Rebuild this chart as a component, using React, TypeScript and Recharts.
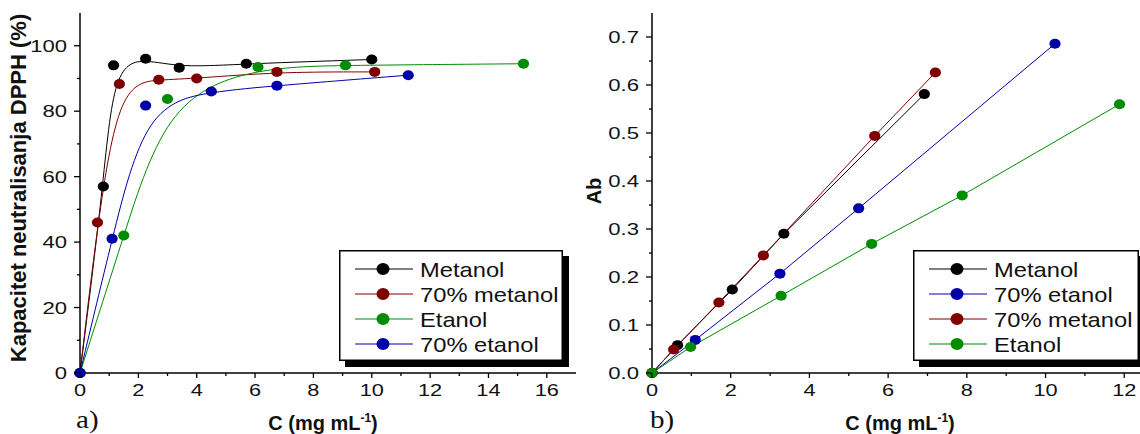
import React from "react";
import { LineChart, Line, XAxis, YAxis } from "recharts";

// a) DPPH neutralisation capacity (%) vs concentration (mg/mL)
const cMetanolA = [0, 0.8, 1.15, 2.25, 3.4, 5.7, 10];
const dpphMetanol = [0, 57, 94, 96, 93.3, 94.5, 95.8];
const cMetanol70A = [0, 0.6, 1.35, 2.7, 4.0, 6.75, 10.1];
const dpphMetanol70 = [0, 46, 88.3, 89.6, 90, 92, 92];
const cEtanolA = [0, 1.5, 3.0, 6.1, 9.1, 15.2];
const dpphEtanol = [0, 42, 83.7, 93.5, 94, 94.5];
const cEtanol70A = [0, 1.1, 2.25, 4.5, 6.75, 11.25];
const dpphEtanol70 = [0, 41, 81.7, 86, 87.8, 91];

// b) absorbance vs concentration (mg/mL)
const cMetanolB = [0, 0.65, 2.04, 3.35, 6.92];
const abMetanol = [0, 0.058, 0.174, 0.29, 0.581];
const cEtanol70B = [0, 1.1, 3.25, 5.25, 10.24];
const abEtanol70 = [0, 0.069, 0.207, 0.343, 0.686];
const cMetanol70B = [0, 0.55, 1.7, 2.83, 5.66, 7.2];
const abMetanol70 = [0, 0.049, 0.147, 0.245, 0.494, 0.626];
const cEtanolB = [0, 0.98, 3.28, 5.58, 7.88, 11.88];
const abEtanol = [0, 0.054, 0.161, 0.269, 0.37, 0.56];

const xTicksA = [0, 1, 2, 3, 4, 5, 6, 7, 8, 9, 10, 11, 12, 13, 14, 15, 16];
const yTicksA = [0, 10, 20, 30, 40, 50, 60, 70, 80, 90, 100];
const xTicksB = [0, 1, 2, 3, 4, 5, 6, 7, 8, 9, 10, 11, 12];
const yTicksB = [0, 0.05, 0.1, 0.15, 0.2, 0.25, 0.3, 0.35, 0.4, 0.45, 0.5, 0.55, 0.6, 0.65, 0.7];

const BLACK = "#000000";
const RED = "#800000";
const GREEN = "#008c00";
const BLUE = "#0000a8";

const SANS = "'Liberation Sans', Arial, sans-serif";
const SERIF = "'Liberation Serif', 'Times New Roman', serif";

const pts = (xs: number[], ys: number[]) => xs.map((x, i) => ({ x, y: ys[i] }));

const seriesA = [
  { name: "Metanol", color: BLACK, data: pts(cMetanolA, dpphMetanol) },
  { name: "70% metanol", color: RED, data: pts(cMetanol70A, dpphMetanol70) },
  { name: "Etanol", color: GREEN, data: pts(cEtanolA, dpphEtanol) },
  { name: "70% etanol", color: BLUE, data: pts(cEtanol70A, dpphEtanol70) },
];

const seriesB = [
  { name: "Metanol", color: BLACK, data: pts(cMetanolB, abMetanol) },
  { name: "70% etanol", color: BLUE, data: pts(cEtanol70B, abEtanol70) },
  { name: "70% metanol", color: RED, data: pts(cMetanol70B, abMetanol70) },
  { name: "Etanol", color: GREEN, data: pts(cEtanolB, abEtanol) },
];

// tick renderers: major ticks get a label, minor ones only a short mark
const bottomTick = (isMajor: (v: number) => boolean) => (p: any) => {
  const v = p.payload.value;
  const major = isMajor(v);
  return (
    <g key={`b${v}`}>
      <line x1={p.x} x2={p.x} y1={p.y} y2={p.y + (major ? 5 : 3)} stroke={BLACK} strokeWidth={1.3} />
      {major && (
        <text transform={`translate(${p.x},${p.y + 23}) scale(1.28,1)`} textAnchor="middle" fontSize={17} fontFamily={SANS} fill="#111">
          {v}
        </text>
      )}
    </g>
  );
};

const leftTick = (isMajor: (v: number) => boolean, fmt: (v: number) => string) => (p: any) => {
  const v = p.payload.value;
  const major = isMajor(v);
  return (
    <g key={`l${v}`}>
      <line x1={p.x} x2={p.x - (major ? 6 : 3)} y1={p.y} y2={p.y} stroke={BLACK} strokeWidth={1.3} />
      {major && (
        <text transform={`translate(${p.x - 13},${p.y}) scale(1.3,1)`} dy="0.36em" textAnchor="end" fontSize={17} fontFamily={SANS} fill="#111">
          {fmt(v)}
        </text>
      )}
    </g>
  );
};

const topTick = (isMajor: (v: number) => boolean) => (p: any) => (
  <line key={`t${p.payload.value}`} x1={p.x} x2={p.x} y1={p.y} y2={p.y + (isMajor(p.payload.value) ? 5 : 3)} stroke={BLACK} strokeWidth={1.3} />
);

const rightTick = (isMajor: (v: number) => boolean) => (p: any) => (
  <line key={`r${p.payload.value}`} x1={p.x} x2={p.x - (isMajor(p.payload.value) ? 5 : 3)} y1={p.y} y2={p.y} stroke={BLACK} strokeWidth={1.3} />
);

const dotFor = (color: string) => (p: any) => (
  <ellipse key={`d${p.index}`} cx={p.cx} cy={p.cy} rx={5.6} ry={5} fill={color} />
);

const XLabel = ({ cx, y }: { cx: number; y: number }) => (
  <text x={cx} y={y} textAnchor="middle" fontSize={20} fontWeight="bold" fontFamily={SANS} fill="#111">
    <tspan>C (mg mL</tspan>
    <tspan dy={-8} fontSize={12}>-1</tspan>
    <tspan dy={8}>)</tspan>
  </text>
);

function LegendBox({ left, top, width, items }: { left: number; top: number; width: number; items: { name: string; color: string }[] }) {
  const h = 111;
  return (
    <svg style={{ position: "absolute", left, top }} width={width + 8} height={h + 8}>
      <rect x={6} y={6} width={width} height={h} fill={BLACK} />
      <rect x={0.75} y={0.75} width={width - 1.5} height={h - 1.5} fill="#fff" stroke={BLACK} strokeWidth={1.5} />
      {items.map((it, i) => {
        const cy = 19 + i * 25;
        return (
          <g key={it.name}>
            <line x1={16} x2={74} y1={cy} y2={cy} stroke={it.color} strokeWidth={1} />
            <ellipse cx={44} cy={cy} rx={6.5} ry={6} fill={it.color} />
            <text transform={`translate(81,${cy}) scale(1.13,1)`} dy="0.36em" fontSize={21} fontFamily={SANS} fill="#111">
              {it.name}
            </text>
          </g>
        );
      })}
    </svg>
  );
}

const evenX = (v: number) => v % 2 === 0;
const majorA = (v: number) => v % 20 === 0;
const majorB = (v: number) => Math.round(v * 100) % 10 === 0;

export default function App() {
  return (
    <div style={{ position: "absolute", left: 0, top: 0, width: 1140, height: 434, overflow: "hidden", background: "#fff" }}>
      <div style={{ position: "absolute", left: 0, top: 0 }}>
        <LineChart width={580} height={434} margin={{ top: 13, right: 4, bottom: 31, left: 0 }}>
          <XAxis dataKey="x" type="number" domain={[0, 17]} ticks={xTicksA} interval={0} height={30}
            tickSize={0} tickMargin={0} tick={bottomTick(evenX)} tickLine={false}
            axisLine={{ stroke: BLACK, strokeWidth: 1.5 }} />
          <XAxis xAxisId="top" orientation="top" dataKey="x" type="number" domain={[0, 17]} ticks={xTicksA} interval={0}
            height={0} tickSize={0} tickMargin={0} tick={topTick(evenX)} tickLine={false}
            axisLine={{ stroke: BLACK, strokeWidth: 1.5 }} />
          <YAxis type="number" domain={[0, 110]} ticks={yTicksA} interval={0} width={80}
            tickSize={0} tickMargin={0} tick={leftTick(majorA, (v) => String(v))} tickLine={false}
            axisLine={{ stroke: BLACK, strokeWidth: 1.5 }} />
          <YAxis yAxisId="right" orientation="right" type="number" domain={[0, 110]} ticks={yTicksA} interval={0} width={0}
            tickSize={0} tickMargin={0} tick={rightTick(majorA)} tickLine={false}
            axisLine={{ stroke: BLACK, strokeWidth: 1.5 }} />
          {seriesA.map((s) => (
            <Line key={s.name} data={s.data} dataKey="y" name={s.name} type="basis" stroke={s.color} strokeWidth={1}
              dot={dotFor(s.color)} activeDot={false} isAnimationActive={false} />
          ))}
          <text transform="translate(26,188) rotate(-90)" textAnchor="middle" fontSize={22} fontWeight="bold" fontFamily={SANS} fill="#111">
            Kapacitet neutralisanja DPPH (%)
          </text>
          <XLabel cx={323} y={430} />
          <text transform="translate(76,428) scale(1.12,1)" fontSize={26} fontFamily={SERIF} fill="#111">a)</text>
        </LineChart>
      </div>
      <LegendBox left={339} top={250} width={224} items={seriesA} />

      <div style={{ position: "absolute", left: 580, top: 0 }}>
        <LineChart width={560} height={434} margin={{ top: 13, right: 0, bottom: 31, left: 0 }}>
          <XAxis dataKey="x" type="number" domain={[0, 12.4]} ticks={xTicksB} interval={0} height={30}
            tickSize={0} tickMargin={0} tick={bottomTick(evenX)} tickLine={false}
            axisLine={{ stroke: BLACK, strokeWidth: 1.5 }} />
          <XAxis xAxisId="top" orientation="top" dataKey="x" type="number" domain={[0, 12.4]} ticks={xTicksB} interval={0}
            height={0} tickSize={0} tickMargin={0} tick={topTick(evenX)} tickLine={false}
            axisLine={{ stroke: BLACK, strokeWidth: 1.5 }} />
          <YAxis type="number" domain={[0, 0.75]} ticks={yTicksB} interval={0} width={72}
            tickSize={0} tickMargin={0} tick={leftTick(majorB, (v) => v.toFixed(1))} tickLine={false}
            axisLine={{ stroke: BLACK, strokeWidth: 1.5 }} />
          {seriesB.map((s) => (
            <Line key={s.name} data={s.data} dataKey="y" name={s.name} type="linear" stroke={s.color} strokeWidth={1}
              dot={dotFor(s.color)} activeDot={false} isAnimationActive={false} />
          ))}
          <text transform="translate(21,191) rotate(-90)" textAnchor="middle" fontSize={20} fontWeight="bold" fontFamily={SANS} fill="#111">
            Ab
          </text>
          <XLabel cx={320} y={430} />
          <text transform="translate(70,428) scale(1.12,1)" fontSize={26} fontFamily={SERIF} fill="#111">b)</text>
        </LineChart>
      </div>
      <LegendBox left={913} top={250} width={226} items={seriesB} />
    </div>
  );
}
